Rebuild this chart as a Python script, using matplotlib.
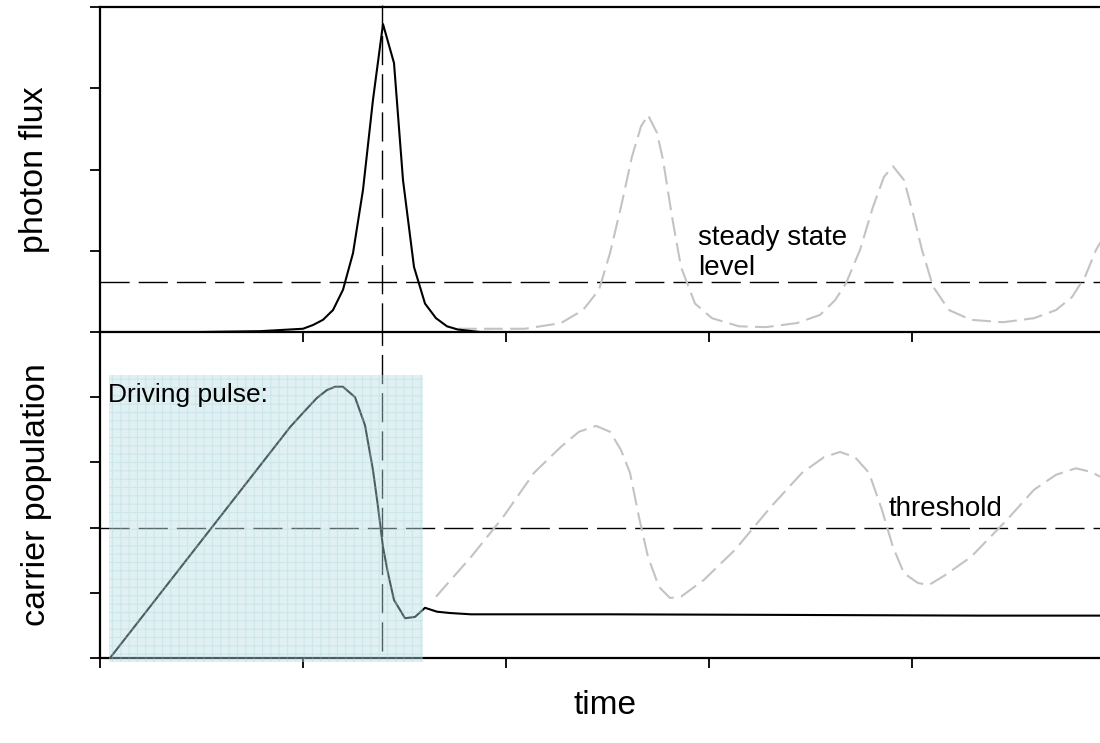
import matplotlib
matplotlib.use("Agg")
import matplotlib.pyplot as plt
import numpy as np
from matplotlib.patches import Rectangle

plt.rcParams['font.family'] = ['Liberation Sans', 'DejaVu Sans']
plt.rcParams['hatch.linewidth'] = 0.8

# ---- data (time in tick units, values in tick units) ----
PX0, PXU = 100.0, 203.0
def tx(px):
    return [(p - PX0) / PXU for p in px]

# photon flux, driven pulse (black)
flux_pulse_t = tx([100, 200, 260, 303, 313, 323, 333, 343, 353, 363, 373, 383, 394, 403, 414, 425, 436, 447, 458, 480, 490])
flux_pulse_v = [0.0, 0.0, 0.01, 0.04, 0.086, 0.15, 0.27, 0.52, 0.97, 1.75, 2.86, 3.79, 3.31, 1.87, 0.80, 0.35, 0.17, 0.07, 0.03, 0.0, 0.0]

# photon flux, free-running (grey dashed)
flux_free_t = tx([458, 525, 561, 583, 599, 610, 621, 632, 641, 648, 657, 663, 672, 681, 695, 712, 739, 766, 797, 820,
                  835, 846, 860, 873, 884, 893, 904, 913, 922, 933, 949, 971, 1003, 1034, 1056, 1072, 1085, 1096, 1110])
flux_free_v = [0.04, 0.04, 0.11, 0.27, 0.52, 0.97, 1.54, 2.16, 2.53, 2.67, 2.45, 2.12, 1.42, 0.80, 0.35, 0.17, 0.07, 0.06, 0.11, 0.21,
               0.39, 0.60, 1.01, 1.54, 1.91, 2.04, 1.87, 1.46, 1.01, 0.56, 0.27, 0.15, 0.12, 0.17, 0.27, 0.43, 0.68, 1.01, 1.30]

# carrier population, driven (black)
carr_pulse_t = tx([110, 290, 303, 317, 327, 335, 343, 355, 365, 373, 378, 383, 388, 394, 405, 415, 425, 437, 450, 471, 610, 802, 980, 1100])
carr_pulse_v = [0.0, 3.54, 3.76, 3.99, 4.11, 4.16, 4.16, 4.0, 3.57, 2.88, 2.32, 1.70, 1.30, 0.89, 0.61, 0.63, 0.77, 0.71, 0.69, 0.67, 0.67, 0.66, 0.65, 0.65]

# carrier population, free-running (grey dashed)
carr_free_t = tx([436, 471, 503, 534, 561, 579, 596, 610, 621, 630, 639, 648, 659, 670, 681, 704, 735, 771, 802, 824, 840,
                  855, 869, 882, 893, 904, 918, 929, 945, 971, 1007, 1034, 1056, 1076, 1092, 1100])
carr_free_v = [0.94, 1.55, 2.16, 2.84, 3.24, 3.47, 3.56, 3.47, 3.19, 2.84, 2.16, 1.55, 1.09, 0.92, 0.94, 1.20, 1.66, 2.32, 2.84, 3.08, 3.16,
               3.08, 2.84, 2.27, 1.70, 1.30, 1.15, 1.12, 1.27, 1.55, 2.12, 2.58, 2.81, 2.91, 2.85, 2.78]

steady_level = 0.62
threshold_level = 2.0
pulse_time = (382 - PX0) / PXU
drive_t0, drive_t1 = (109 - PX0) / PXU, (423 - PX0) / PXU
drive_top = 4.34

# ---- figure ----
fig = plt.figure(figsize=(11, 7.43), dpi=100)
axL = 100 / 1100
axW = 1 - axL
ax2 = fig.add_axes([axL, 85 / 743, axW, 326 / 743])
ax1 = fig.add_axes([axL, 411 / 743, axW, 325 / 743])
ax1.patch.set_visible(False)
ax2.patch.set_visible(False)

xmax = (1100 - PX0) / PXU
grey = '#c3c3c3'
ref_dash = (21, 6.5)

for ax in (ax1, ax2):
    ax.set_xlim(0, xmax)
    ax.set_xticks([0, 1, 2, 3, 4])
    ax.tick_params(direction='out', length=7, width=1.3, labelleft=False, labelbottom=False)
    ax.spines['right'].set_visible(False)
    for s in ('left', 'bottom', 'top'):
        ax.spines[s].set_linewidth(1.6)

ax1.set_ylim(0, 4)
ax1.set_yticks([0, 1, 2, 3, 4])
ax2.set_ylim(0, 5)
ax2.set_yticks([0, 1, 2, 3, 4])
ax2.spines['top'].set_visible(False)

# top panel
ax1.plot(flux_free_t, flux_free_v, color=grey, lw=1.5, dashes=(9, 3.5), zorder=2)
ax1.plot(flux_pulse_t, flux_pulse_v, color='black', lw=1.5, zorder=3)
ax1.axhline(steady_level, color='black', lw=1.0, dashes=ref_dash, zorder=1)
ax1.axvline(pulse_time, ymin=0, ymax=1.006, color='black', lw=1.0, dashes=ref_dash, zorder=1, clip_on=False)
ax1.text((698 - PX0) / PXU, (332 - 245) / 81.25, 'steady state', fontsize=20, ha='left', va='baseline')
ax1.text((698 - PX0) / PXU, (332 - 275) / 81.25, 'level', fontsize=20, ha='left', va='baseline')

# bottom panel
ax2.plot(carr_free_t, carr_free_v, color=grey, lw=1.5, dashes=(9, 3.5), zorder=2)
ax2.plot(carr_pulse_t, carr_pulse_v, color='black', lw=1.5, zorder=3)
ax2.axhline(threshold_level, color='black', lw=1.0, dashes=ref_dash, zorder=1)
ax2.axvline(pulse_time, ymin=0.02, color='black', lw=1.0, dashes=ref_dash, zorder=1)
ax2.text((889 - PX0) / PXU, 2.08, 'threshold', fontsize=20, ha='left', va='bottom')

rect = Rectangle((drive_t0, -0.06), drive_t1 - drive_t0, drive_top + 0.06,
                 facecolor=(0.72, 0.87, 0.89, 0.42), edgecolor=(0.60, 0.82, 0.86, 0.30),
                 hatch='++', lw=0, zorder=5, clip_on=False)
ax2.add_patch(rect)
ax2.text(drive_t0 - 0.005, 4.03, 'Driving pulse:', fontsize=19, ha='left', va='center', zorder=6)

fig.text(35 / 1100, 1 - 170 / 743, 'photon flux', rotation=90, fontsize=24.5, ha='center', va='center')
fig.text(37 / 1100, 1 - 495 / 743, 'carrier population', rotation=90, fontsize=24.5, ha='center', va='center')
fig.text(605 / 1100, 1 - 705 / 743, 'time', fontsize=24, ha='center', va='center')

fig.savefig('out.png', dpi=100)
